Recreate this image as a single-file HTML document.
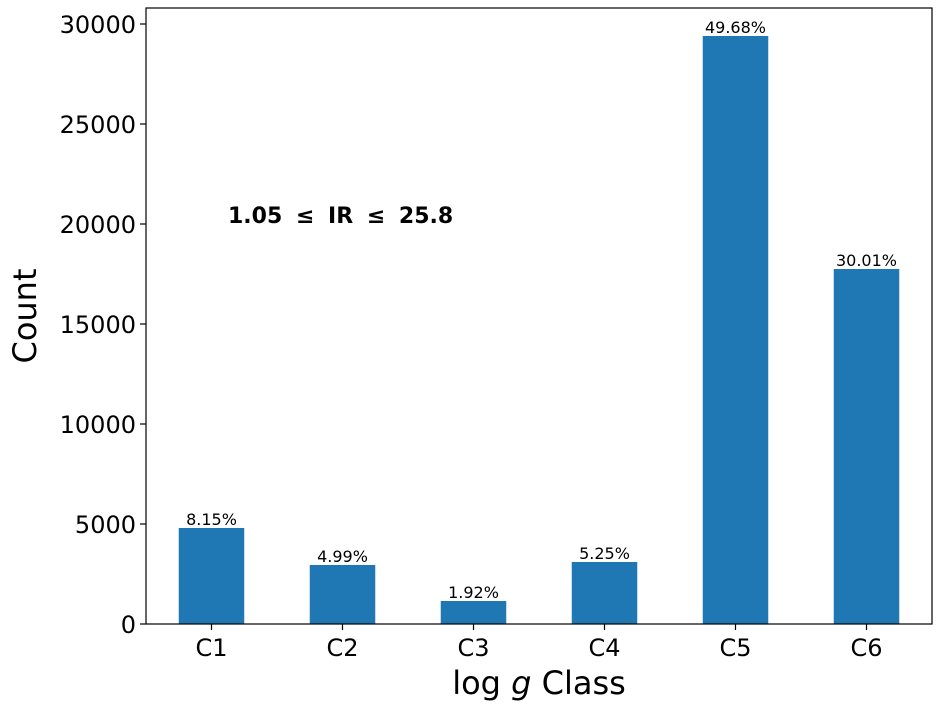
<!DOCTYPE html>
<html><head><meta charset="utf-8"><style>
html,body{margin:0;padding:0;background:#fff;}
svg{display:block;font-family:"DejaVu Sans","Liberation Sans",sans-serif;}
</style></head><body>
<svg id="chart" width="936" height="708" viewBox="0 0 936 708">
<g id="bars"></g>
<g id="yaxis"></g>
<g id="xaxis"></g>
<rect x="146" y="8" width="786" height="616" fill="none" stroke="#000" stroke-width="1.2"/>
<text x="228" y="223" font-size="22" font-weight="bold" word-spacing="6">1.05 ≤ IR ≤ 25.8</text>
<text x="539" y="694" font-size="32" text-anchor="middle">log <tspan font-style="italic">g</tspan> Class</text>
<text transform="translate(36,316) rotate(-90)" font-size="32" text-anchor="middle">Count</text>
</svg>
<script>
const categories = ["C1","C2","C3","C4","C5","C6"];
const counts = [4800, 2950, 1150, 3100, 29400, 17750];
const pctLabels = ["8.15%","4.99%","1.92%","5.25%","49.68%","30.01%"];
const yTicks = [0,5000,10000,15000,20000,25000,30000];

const NS="http://www.w3.org/2000/svg";
const L=146,R=932,T=8,B=624;
function ys(v){return B - v*(600/30000);}
const step=(R-L)/categories.length;
function xc(i){return L+step*(i+0.5);}
const bw=step*0.5;
function mk(tag,attrs,parent){const e=document.createElementNS(NS,tag);for(const k in attrs)e.setAttribute(k,attrs[k]);parent.appendChild(e);return e;}
const gb=document.getElementById('bars'),gy=document.getElementById('yaxis'),gx=document.getElementById('xaxis');
categories.forEach((c,i)=>{
  const r=mk('rect',{x:xc(i)-bw/2,y:ys(counts[i]),width:bw,height:B-ys(counts[i]),fill:'#1f77b4'},gb);
  
  
  const t=mk('text',{x:xc(i),y:ys(counts[i])-3,'font-size':16,'text-anchor':'middle'},gb);
  t.textContent=pctLabels[i];
  
  
  const tk=mk('line',{x1:xc(i),x2:xc(i),y1:B,y2:B+6,stroke:'#000','stroke-width':1.2},gx);
  
  
  const tl=mk('text',{x:xc(i),y:B+32,'font-size':24,'text-anchor':'middle'},gx);
  tl.textContent=c;
  
  
});
yTicks.forEach(v=>{
  const tk=mk('line',{x1:L-6,x2:L,y1:ys(v),y2:ys(v),stroke:'#000','stroke-width':1.2},gy);
  
  
  const tl=mk('text',{x:L-10,y:ys(v)+9,'font-size':24,'text-anchor':'end'},gy);
  tl.textContent=v;
  
  
});
</script>
</body></html>
